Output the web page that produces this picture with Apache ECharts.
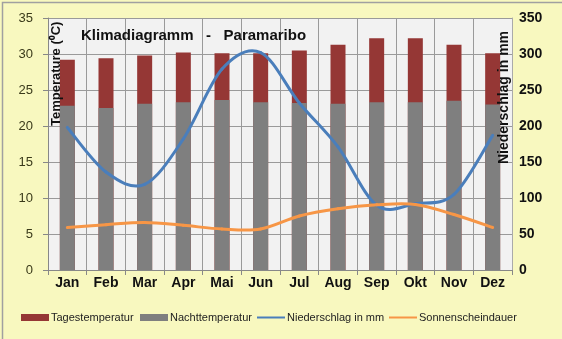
<!DOCTYPE html>
<html>
<head>
<meta charset="utf-8">
<script src="https://cdn.jsdelivr.net/npm/echarts@6/dist/echarts.min.js"></script>
<style>
html,body{margin:0;padding:0;background:#f8f8bf;}
#c{width:562px;height:339px;}
</style>
</head>
<body>
<div id="c"></div>
<script>
const months = ['Jan','Feb','Mar','Apr','Mai','Jun','Jul','Aug','Sep','Okt','Nov','Dez'];
const tagesTemp = [29.2, 29.4, 29.8, 30.2, 30.1, 30.1, 30.5, 31.3, 32.2, 32.2, 31.3, 30.1];
const nachtTemp = [22.8, 22.5, 23.1, 23.3, 23.6, 23.3, 23.2, 23.1, 23.3, 23.3, 23.5, 23.0];
const niederschlag = [198, 136, 119, 182, 279, 302, 232, 171, 90, 92, 105, 187];
const sonnenschein = [5.9, 6.3, 6.6, 6.2, 5.7, 5.7, 7.5, 8.5, 9.05, 9.1, 7.7, 5.9];
const tempTicks = {min: 0, max: 35, interval: 5};
const rainTicks = {min: 0, max: 350, interval: 50};

// Excel-style smooth line (Catmull-Rom bezier segments) drawn via the axes' own scales
function smoothSeries(name, values, yAxisIndex, color) {
  return {
    name: name, type: 'custom', yAxisIndex: yAxisIndex, z: 5,
    itemStyle: {color: color},
    encode: {x: 0, y: 1},
    data: values.map((v, i) => [i, v]),
    clip: true,
    renderItem: function (params, api) {
      const i = params.dataIndex;
      if (i >= values.length - 1) return null;
      const n = values.length;
      const p = k => { const j = Math.max(0, Math.min(n - 1, k)); return api.coord([j, values[j]]); };
      const p0 = p(i - 1), p1 = p(i), p2 = p(i + 1), p3 = p(i + 2);
      const t = 1 / 6;
      return {
        type: 'bezierCurve',
        shape: {
          x1: p1[0], y1: p1[1], x2: p2[0], y2: p2[1],
          cpx1: p1[0] + (p2[0] - p0[0]) * t, cpy1: p1[1] + (p2[1] - p0[1]) * t,
          cpx2: p2[0] - (p3[0] - p1[0]) * t, cpy2: p2[1] - (p3[1] - p1[1]) * t
        },
        style: {stroke: color, lineWidth: 3, fill: null, lineCap: 'round'}
      };
    }
  };
}

const chart = echarts.init(document.getElementById('c'), null, {renderer: 'canvas'});
const gridCol = '#9a9a9a';
const legendText = {fontFamily: 'Liberation Sans', fontSize: 11, color: '#222', padding: [0, 0, 0, -3]};
function legendAt(left, name, h) {
  return {left: left, top: 307, itemWidth: 28, itemHeight: h, icon: 'rect',
          textStyle: legendText, data: [name], selectedMode: false};
}
chart.setOption({
  backgroundColor: '#f8f8bf',
  animation: false,
  grid: {left: 48, right: 50, top: 18, bottom: 69, show: true, backgroundColor: '#f2f2f2', borderWidth: 0},
  legend: [
    legendAt(16, 'Tagestemperatur', 7),
    legendAt(135, 'Nachttemperatur', 7),
    legendAt(252, 'Niederschlag in mm', 2),
    legendAt(384, 'Sonnenscheindauer', 2)
  ],
  xAxis: {
    type: 'category', data: months,
    axisLine: {lineStyle: {color: '#888', width: 1}},
    axisTick: {show: true, length: 5, lineStyle: {color: '#888'}},
    axisLabel: {fontFamily: 'Liberation Sans', fontWeight: 'bold', fontSize: 14, color: '#111', margin: 6},
    splitLine: {show: true, lineStyle: {color: gridCol, width: 1}}
  },
  yAxis: [
    {
      type: 'value', min: tempTicks.min, max: tempTicks.max, interval: tempTicks.interval,
      axisLine: {show: true, lineStyle: {color: '#888'}},
      axisTick: {show: true, length: 5, lineStyle: {color: '#888'}},
      axisLabel: {fontFamily: 'Liberation Sans', fontSize: 13, color: '#3a3a1a', margin: 15},
      splitLine: {show: true, lineStyle: {color: gridCol, width: 1}}
    },
    {
      type: 'value', min: rainTicks.min, max: rainTicks.max, interval: rainTicks.interval,
      position: 'right',
      axisLine: {show: true, lineStyle: {color: '#aaa'}},
      axisTick: {show: false},
      axisLabel: {fontFamily: 'Liberation Sans', fontWeight: 'bold', fontSize: 14, color: '#111', margin: 7},
      splitLine: {show: false}
    }
  ],
  series: [
    {name: 'Tagestemperatur', type: 'bar', data: tagesTemp, barWidth: 15, barGap: '-100%',
     itemStyle: {color: '#953735'}},
    {name: 'Nachttemperatur', type: 'bar', data: nachtTemp, barWidth: 15, barGap: '-100%',
     itemStyle: {color: '#7f7f7f'}},
    smoothSeries('Niederschlag in mm', niederschlag, 1, '#4a7ebb'),
    smoothSeries('Sonnenscheindauer', sonnenschein, 0, '#f79646')
  ],
  graphic: [
    {type: 'rect', left: 0, top: 0, shape: {x: 0.5, y: 0.5, width: 561, height: 338},
     style: {fill: 'none', stroke: '#a0a0a0', lineWidth: 1.5}, silent: true},
    {type: 'text', x: 81, y: 36, z: 100,
     style: {text: 'Klimadiagramm   -   Paramaribo', fontFamily: 'Liberation Sans', fontWeight: 'bold',
             fontSize: 15, fill: '#111', textVerticalAlign: 'middle'}},
    {type: 'text', x: 56, y: 126, rotation: Math.PI / 2, z: 100,
     style: {text: 'Temperature (⁰C)', fontFamily: 'Liberation Sans', fontWeight: 'bold',
             fontSize: 13, fill: '#111', textAlign: 'left', textVerticalAlign: 'middle'}},
    {type: 'text', x: 504, y: 164, rotation: Math.PI / 2, z: 100,
     style: {text: 'Niederschlag in mm', fontFamily: 'Liberation Sans', fontWeight: 'bold',
             fontSize: 14, fill: '#111', textAlign: 'left', textVerticalAlign: 'middle'}}
  ]
});
</script>
</body>
</html>
